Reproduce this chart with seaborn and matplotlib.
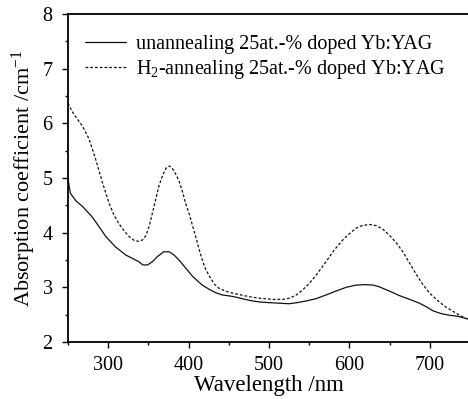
import numpy as np
import pandas as pd
import matplotlib
matplotlib.use("Agg")
import matplotlib.pyplot as plt
import seaborn as sns
from matplotlib.ticker import MultipleLocator

wl_un = [250, 253, 260, 268, 280, 290, 297, 309, 322, 338, 343, 349, 355, 361, 369, 376, 382, 388, 396, 405,
         417, 426, 434, 442, 452, 459, 470, 480, 490, 500, 512, 525, 535, 546, 558, 571, 583, 596, 608, 620,
         630, 637, 650, 662, 675, 687, 695, 704, 714, 724, 735, 745, 750]
abs_un = [4.98, 4.72, 4.58, 4.48, 4.29, 4.08, 3.93, 3.74, 3.59, 3.47, 3.41, 3.41, 3.47, 3.56, 3.65, 3.65, 3.59, 3.50, 3.36, 3.20,
          3.04, 2.96, 2.90, 2.86, 2.84, 2.82, 2.78, 2.75, 2.73, 2.72, 2.71, 2.70, 2.72, 2.75, 2.79, 2.86, 2.93, 3.00, 3.04, 3.05,
          3.04, 3.01, 2.93, 2.85, 2.78, 2.71, 2.65, 2.57, 2.52, 2.49, 2.47, 2.43, 2.42]

wl_h2 = [250, 255, 260, 268, 276, 284, 293, 301, 307, 313, 320, 326, 332, 338, 343, 347, 351, 355, 359, 363,
         368, 372, 376, 380, 384, 388, 392, 396, 401, 405, 409, 413, 417, 421, 426, 432, 438, 448, 459, 475,
         488, 505, 517, 525, 533, 541, 550, 560, 571, 581, 592, 600, 608, 616, 625, 633, 641, 650, 658, 667,
         675, 683, 691, 700, 712, 720, 729, 737, 745, 750]
abs_h2 = [6.37, 6.22, 6.11, 5.95, 5.72, 5.36, 4.91, 4.54, 4.33, 4.17, 4.03, 3.93, 3.86, 3.84, 3.87, 3.95, 4.12, 4.36, 4.60, 4.85,
          5.06, 5.18, 5.22, 5.17, 5.07, 4.95, 4.77, 4.55, 4.33, 4.12, 3.92, 3.70, 3.50, 3.34, 3.20, 3.06, 2.98, 2.92, 2.88, 2.83,
          2.80, 2.78, 2.78, 2.80, 2.85, 2.94, 3.07, 3.25, 3.47, 3.68, 3.87, 3.98, 4.08, 4.13, 4.15, 4.13, 4.07, 3.95, 3.82, 3.64,
          3.44, 3.24, 3.06, 2.89, 2.73, 2.64, 2.56, 2.49, 2.43, 2.41]

label_un = "unannealing 25at.-% doped Yb:YAG"
label_h2 = "H$_\\mathregular{2}$-annealing 25at.-% doped Yb:YAG"
x_label = "Wavelength /nm"
y_label = "Absorption coefficient /cm$^\\mathregular{-1}$"

sns.set_theme(style="ticks")
plt.rcParams['font.family'] = ['Liberation Serif', 'DejaVu Serif']
plt.rcParams['mathtext.fontset'] = 'custom'
plt.rcParams['mathtext.rm'] = 'Liberation Serif'
plt.rcParams['mathtext.it'] = 'Liberation Serif:italic'
plt.rcParams['axes.edgecolor'] = 'black'
plt.rcParams['text.color'] = 'black'
plt.rcParams['axes.labelcolor'] = 'black'
plt.rcParams['xtick.color'] = 'black'
plt.rcParams['ytick.color'] = 'black'

fig = plt.figure(figsize=(4.68, 3.99), dpi=100)
ax = fig.add_axes([68/468, 57/399, 402/468, 328/399])

df_un = pd.DataFrame({"wl": wl_un, "a": abs_un})
df_h2 = pd.DataFrame({"wl": wl_h2, "a": abs_h2})
sns.lineplot(data=df_un, x="wl", y="a", ax=ax, color="#111111", lw=0.9, label=label_un)
sns.lineplot(data=df_h2, x="wl", y="a", ax=ax, color="#111111", lw=0.9, linestyle=(0, (2.2, 1.6)), label=label_h2)

ax.set_xlim(250, 750)
ax.set_ylim(2, 8)
ax.xaxis.set_major_locator(MultipleLocator(100))
ax.xaxis.set_minor_locator(MultipleLocator(50))
ax.yaxis.set_major_locator(MultipleLocator(1))
ax.yaxis.set_minor_locator(MultipleLocator(0.5))
ax.tick_params(which='major', direction='out', length=4, width=1.0, labelsize=14.5)
ax.tick_params(which='minor', direction='out', length=2.5, width=1.0)
ax.tick_params(axis='x', which='major', pad=6)
ax.tick_params(axis='y', which='major', pad=7)
for s in ax.spines.values():
    s.set_linewidth(1.3)
ax.set_xlabel(x_label, fontsize=16.5, labelpad=0)
ax.set_ylabel(y_label, fontsize=16, labelpad=3)

leg = ax.legend(loc='upper left', bbox_to_anchor=(0.008, 0.98), frameon=False, fontsize=14.5,
                handlelength=2.0, handletextpad=0.5, labelspacing=0.2, borderaxespad=0.3)

fig.savefig("out.png", dpi=100)
